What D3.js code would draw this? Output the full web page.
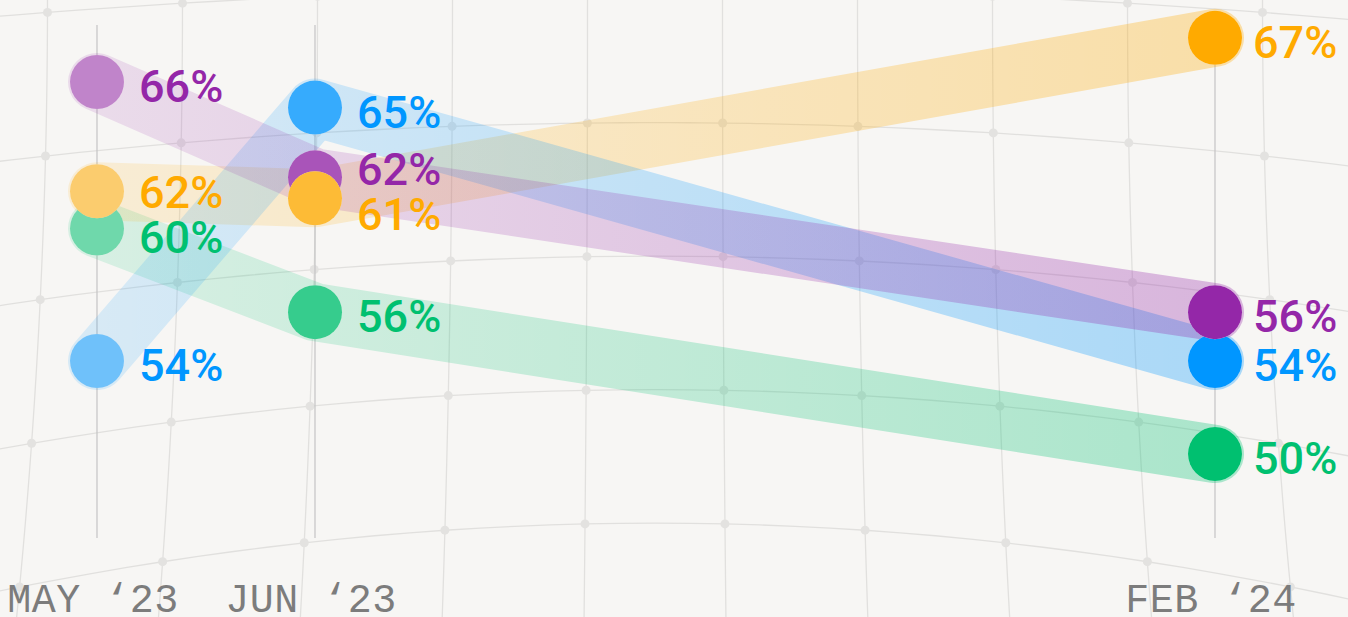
<!DOCTYPE html>
<html>
<head>
<meta charset="utf-8">
<script src="https://cdn.jsdelivr.net/npm/d3@7"></script>
<style>
  html, body { margin: 0; padding: 0; background: #f7f6f4; overflow: hidden; }
  svg { display: block; }
</style>
</head>
<body>
<svg id="chart" width="1348" height="617"></svg>
<script>
/* Daten */
const months = ["MAY ‘23", "JUN ‘23", "FEB ‘24"];
const seriesNames = ["green", "orange", "blue", "purple"];
const seriesColors = ["#00c070", "#ffaa00", "#0096ff", "#9427a8"];
const greenValues = [59.7, 56.1, 50.0];
const orangeValues = [61.3, 61.0, 67.9];
const blueValues = [54.0, 64.9, 54.0];
const purpleValues = [66.0, 61.9, 56.1];
const greenLabels = ["60%", "56%", "50%"];
const orangeLabels = ["62%", "61%", "67%"];
const blueLabels = ["54%", "65%", "54%"];
const purpleLabels = ["66%", "62%", "56%"];

const seriesValues = [greenValues, orangeValues, blueValues, purpleValues];
const seriesLabels = [greenLabels, orangeLabels, blueLabels, purpleLabels];
const circleOrder = ["green", "blue", "purple", "orange"];

const width = 1348, height = 617;
const bg = "#f7f6f4";
const svg = d3.select("#chart");

svg.append("rect").attr("width", width).attr("height", height).attr("fill", bg);

/* Hintergrund-Gitter (gewölbt) */
function warp(u, v) {
  const y0 = 122.6 + 133.5 * (v - 1);
  const k = 1.65 + 0.5 * (v - 1);
  const yy = y0 + k * u * u;
  const s = 135 + 0.000018 * yy * yy;
  return [655 + u * s, yy];
}
const gridG = svg.append("g");
const gridLine = d3.line().curve(d3.curveBasis);
const colsU = d3.range(-5.5, 6, 1);
const rowsV = d3.range(0, 6, 1);
rowsV.forEach(v => {
  gridG.append("path")
    .attr("d", gridLine(d3.range(-6.5, 6.6, 0.25).map(u => warp(u, v))))
    .attr("fill", "none").attr("stroke", "#e1e0de").attr("stroke-width", 1.3);
});
colsU.forEach(u => {
  gridG.append("path")
    .attr("d", gridLine(d3.range(-0.6, 5.1, 0.1).map(v => warp(u, v))))
    .attr("fill", "none").attr("stroke", "#e1e0de").attr("stroke-width", 1.3);
});
rowsV.forEach(v => colsU.forEach(u => {
  const p = warp(u, v);
  gridG.append("circle").attr("cx", p[0]).attr("cy", p[1]).attr("r", 4.5).attr("fill", "#e3e2e0");
}));

/* Skalen */
const x = d3.scaleOrdinal().domain(months).range([97, 315, 1215]);
const y = d3.scaleLinear().domain([50, 66]).range([454, 82]);

/* Achsenlinien */
svg.append("g").selectAll("line").data(months).join("line")
  .attr("x1", d => x(d)).attr("x2", d => x(d))
  .attr("y1", 25).attr("y2", 538)
  .attr("stroke", "#c4c4c4").attr("stroke-width", 1.2);

/* Achsenbeschriftung */
svg.append("g").selectAll("text").data(months).join("text")
  .attr("x", d => x(d) - 4).attr("y", 612)
  .attr("text-anchor", "middle")
  .attr("font-family", "'Liberation Mono', 'DejaVu Sans Mono', monospace")
  .attr("font-size", 40)
  .attr("letter-spacing", 0.5)
  .attr("fill", "#7c7c7c")
  .text(d => d);

/* Verläufe für die Bänder */
const defs = svg.append("defs");
seriesNames.forEach((name, i) => {
  const grad = defs.append("linearGradient")
    .attr("id", "grad-" + name)
    .attr("gradientUnits", "userSpaceOnUse")
    .attr("x1", x(months[0])).attr("x2", x(months[2]))
    .attr("y1", 0).attr("y2", 0);
  grad.append("stop").attr("offset", 0).attr("stop-color", seriesColors[i]).attr("stop-opacity", 0.13);
  grad.append("stop").attr("offset", 1).attr("stop-color", seriesColors[i]).attr("stop-opacity", 0.31);
});

/* Bänder */
const bandLine = d3.line().x(d => x(d.m)).y(d => y(d.v));
const bandG = svg.append("g");
seriesNames.forEach((name, i) => {
  const pts = months.map((m, j) => ({ m: m, v: seriesValues[i][j] }));
  bandG.append("path")
    .attr("d", bandLine(pts))
    .attr("fill", "none")
    .attr("stroke", "url(#grad-" + name + ")")
    .attr("stroke-width", 58)
    .attr("stroke-linecap", "round")
    .attr("stroke-linejoin", "round");
});

/* Punkte */
const circleOpacity = [0.55, 0.78, 1];
const dotG = svg.append("g");
circleOrder.forEach(name => {
  const i = seriesNames.indexOf(name);
  months.forEach((m, j) => {
    const cx = x(m), cy = y(seriesValues[i][j]);
    dotG.append("circle").attr("cx", cx).attr("cy", cy).attr("r", 27).attr("fill", bg);
    dotG.append("circle").attr("cx", cx).attr("cy", cy).attr("r", 27)
      .attr("fill", seriesColors[i]).attr("fill-opacity", circleOpacity[j]);
  });
});

/* Wertbeschriftungen mit einfacher Kollisionsvermeidung */
const labelG = svg.append("g");
months.forEach((m, j) => {
  const items = seriesNames.map((name, i) => ({
    i: i, ly: y(seriesValues[i][j]) + 4
  })).sort((a, b) => a.ly - b.ly);
  const minGap = 45;
  for (let k = 1; k < items.length; k++) {
    const gap = items[k].ly - items[k - 1].ly;
    if (gap < minGap) {
      const push = (minGap - gap) / 2;
      items[k - 1].ly -= push;
      items[k].ly += push;
    }
  }
  items.forEach(it => {
    labelG.append("text")
      .attr("x", x(m) + (j === 2 ? 38 : 42))
      .attr("y", it.ly)
      .attr("dy", "0.36em")
      .attr("font-family", "Roboto, 'Noto Sans', sans-serif")
      .attr("font-weight", 500)
      .attr("font-size", 45)
      .attr("fill", seriesColors[it.i])
      .text(seriesLabels[it.i][j]);
  });
});
</script>
</body>
</html>
